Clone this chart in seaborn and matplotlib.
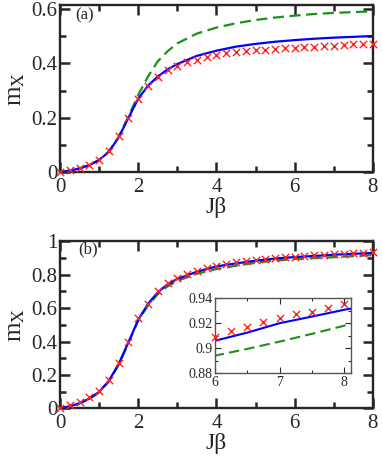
import numpy as np
import pandas as pd
import matplotlib
matplotlib.use("Agg")
import matplotlib.pyplot as plt
from matplotlib.ticker import MultipleLocator
import seaborn as sns

# =========================
# DATA
# =========================

# markers at every 0.25 in J*beta
jb_pts = [i * 0.25 for i in range(33)]

red_a = [0, 0.009, 0.016, 0.027, 0.046, 0.078, 0.132, 0.198, 0.27, 0.318,
         0.352, 0.376, 0.392, 0.406, 0.414, 0.424, 0.432, 0.437, 0.441, 0.445,
         0.448, 0.451, 0.454, 0.456, 0.458, 0.460, 0.462, 0.464, 0.466, 0.468,
         0.470, 0.471, 0.473]

red_b = [0, 0.02, 0.04, 0.066, 0.104, 0.17, 0.27, 0.4, 0.54, 0.625,
         0.70, 0.75, 0.78, 0.806, 0.824, 0.84, 0.854, 0.866, 0.876, 0.884,
         0.891, 0.897, 0.902, 0.906, 0.909, 0.914, 0.917, 0.921, 0.924, 0.927,
         0.929, 0.932, 0.935]

# curves
jb_line = [0, 0.25, 0.5, 0.75, 1.0, 1.25, 1.5, 1.75, 2.0, 2.25, 2.5, 2.75,
           3.0, 3.5, 4.0, 4.5, 5.0, 5.5, 6.0, 6.5, 7.0, 7.5, 8.0, 8.25]

blue_a = [0, 0.006, 0.014, 0.026, 0.045, 0.075, 0.128, 0.2, 0.27, 0.318,
          0.352, 0.378, 0.398, 0.428, 0.447, 0.462, 0.472, 0.48, 0.486,
          0.491, 0.495, 0.498, 0.501, 0.502]
green_a = [0, 0.006, 0.014, 0.026, 0.045, 0.076, 0.13, 0.205, 0.284, 0.352,
           0.408, 0.445, 0.474, 0.51, 0.532, 0.548, 0.56, 0.569, 0.576,
           0.582, 0.586, 0.589, 0.592, 0.594]

blue_b = [0, 0.012, 0.03, 0.058, 0.098, 0.165, 0.265, 0.395, 0.53, 0.625,
          0.695, 0.742, 0.775, 0.818, 0.85, 0.868, 0.884, 0.897, 0.906,
          0.9125, 0.92, 0.9253, 0.9307, 0.933]
green_b = [0, 0.011, 0.029, 0.056, 0.095, 0.16, 0.26, 0.39, 0.525, 0.615,
           0.683, 0.73, 0.763, 0.806, 0.834, 0.854, 0.872, 0.885, 0.8941,
           0.8995, 0.9053, 0.9115, 0.918, 0.921]

RED = "#ff2020"
BLUE = "#0000ff"
GREEN = "#1a921a"

# =========================
# STYLE
# =========================

sns.set_style("ticks")
plt.rcParams['font.family'] = ['Liberation Serif', 'DejaVu Serif']
plt.rcParams['mathtext.fontset'] = 'stix'
plt.rcParams['axes.linewidth'] = 1.7


def style_axes(ax, major_x, minor_x, major_y, minor_y, size=15, big=True):
    ax.xaxis.set_major_locator(MultipleLocator(major_x))
    ax.xaxis.set_minor_locator(MultipleLocator(minor_x))
    ax.yaxis.set_major_locator(MultipleLocator(major_y))
    ax.yaxis.set_minor_locator(MultipleLocator(minor_y))
    if big:
        ax.tick_params(which='major', direction='in', length=7.5, width=1.8,
                       top=True, right=True, labelsize=size, pad=2)
        ax.tick_params(which='minor', direction='in', length=4, width=1.8,
                       top=True, right=True)
        ax.tick_params(axis='x', which='major', pad=4)
    else:
        ax.tick_params(which='major', direction='in', length=4, width=0.8,
                       top=True, right=True, labelsize=size, pad=2)
        ax.tick_params(which='minor', direction='in', length=2, width=0.8,
                       top=True, right=True)


def draw(ax, x_pts, red, blue, green, lw=1.6, ms=28):
    sns.lineplot(x=jb_line, y=green, ax=ax, color=GREEN, linewidth=lw,
                 linestyle=(0, (5, 2.5)))
    sns.lineplot(x=jb_line, y=blue, ax=ax, color=BLUE, linewidth=lw)
    sns.scatterplot(x=x_pts, y=red, ax=ax, marker='x', color=RED, s=ms,
                    linewidth=1.0, clip_on=False, zorder=5)


fig = plt.figure(figsize=(3.82, 4.58), dpi=100)

# =========================
# PANEL (a)
# =========================

ax1 = fig.add_axes([0.157, 0.624, 0.819, 0.365])
draw(ax1, jb_pts, red_a, blue_a, green_a)
ax1.set_xlim(0, 8)
ax1.set_ylim(0, 0.615)
style_axes(ax1, 2, 1, 0.2, 0.1)
ax1.set_yticks([0, 0.2, 0.4, 0.6])
ax1.set_yticklabels(['0', '0.2', '0.4', '0.6'])
ax1.set_xlabel('Jβ', fontsize=17, labelpad=0)
ax1.set_ylabel(r'm$_{\rm X}$', fontsize=18, labelpad=3)
ax1.text(0.048, 0.94, '(a)', transform=ax1.transAxes, fontsize=12,
         va='center', ha='left')

# =========================
# PANEL (b)
# =========================

ax2 = fig.add_axes([0.157, 0.1085, 0.819, 0.3645])
draw(ax2, jb_pts, red_b, blue_b, green_b)
ax2.set_xlim(0, 8)
ax2.set_ylim(0, 1)
style_axes(ax2, 2, 1, 0.2, 0.1)
ax2.set_yticks([0, 0.2, 0.4, 0.6, 0.8, 1.0])
ax2.set_yticklabels(['0', '0.2', '0.4', '0.6', '0.8', '1'])
ax2.set_xlabel('Jβ', fontsize=17, labelpad=0)
ax2.set_ylabel(r'm$_{\rm X}$', fontsize=18, labelpad=3)
ax2.text(0.058, 0.95, '(b)', transform=ax2.transAxes, fontsize=12,
         va='center', ha='left')

# =========================
# INSET (markers from Jβ >= 6 only)
# =========================

n0 = jb_pts.index(6.0)
ax3 = fig.add_axes([0.563, 0.185, 0.355, 0.164])
draw(ax3, jb_pts[n0:], red_b[n0:], blue_b, green_b, lw=1.5, ms=26)
ax3.set_xlim(6, 8.1)
ax3.set_ylim(0.88, 0.94)
style_axes(ax3, 1, 0.5, 0.02, 0.01, size=10, big=False)
ax3.set_yticks([0.88, 0.9, 0.92, 0.94])
ax3.set_yticklabels(['0.88', '0.9', '0.92', '0.94'])
ax3.set_xticks([6, 7, 8])
ax3.set_xticklabels(['6', '7', '8'])
for sp in ax3.spines.values():
    sp.set_linewidth(1.0)
    sp.set_color('#555555')
ax3.set_xlabel('')
ax3.set_ylabel('')

fig.savefig("out.png", dpi=100)
